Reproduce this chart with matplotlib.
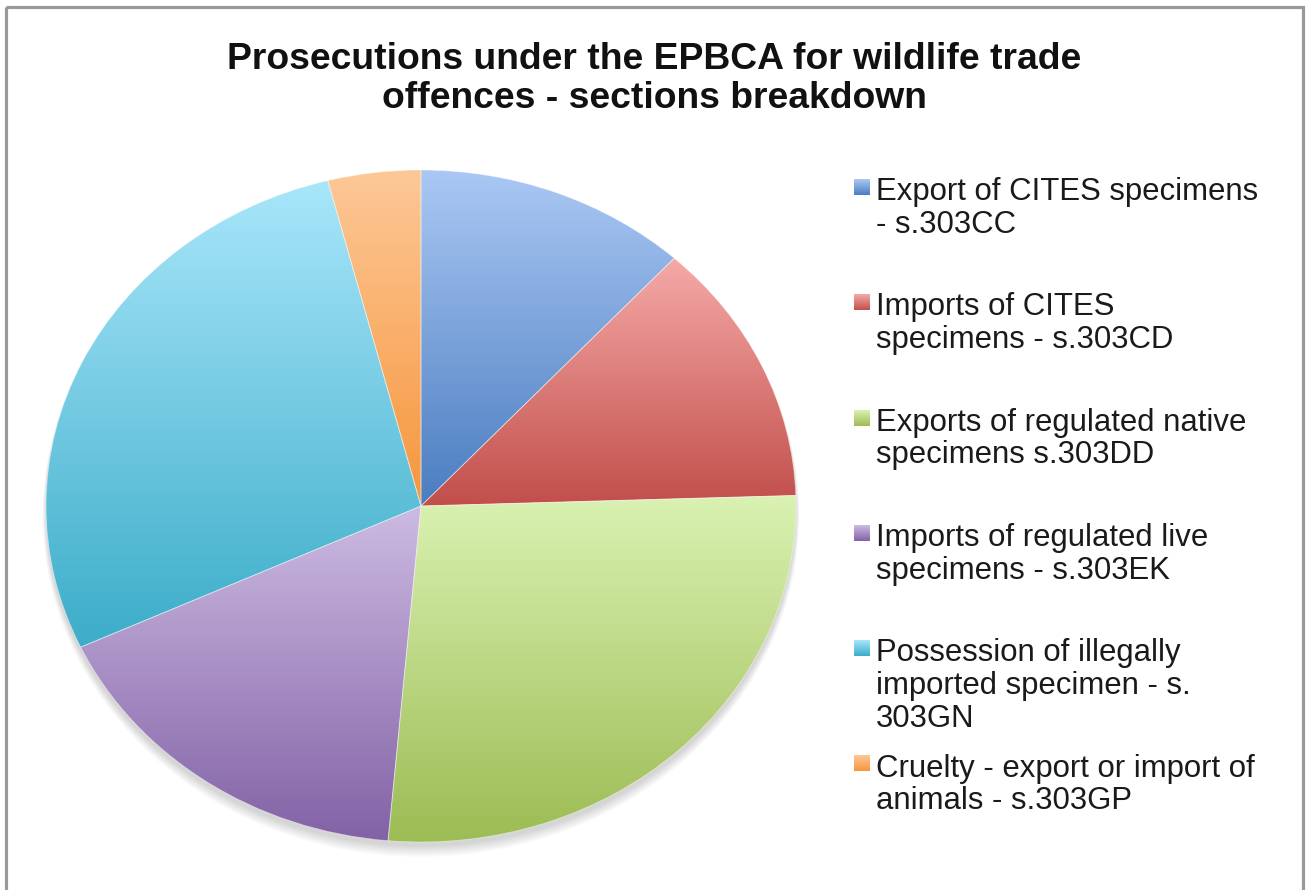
import numpy as np
import matplotlib
matplotlib.use("Agg")
import matplotlib.pyplot as plt
from matplotlib.colors import to_rgb
from matplotlib.patches import Rectangle, Ellipse

# ---- data -------------------------------------------------------------
categories = [
    "Export of CITES specimens\n- s.303CC",
    "Imports of CITES\nspecimens - s.303CD",
    "Exports of regulated native\nspecimens s.303DD",
    "Imports of regulated live\nspecimens - s.303EK",
    "Possession of illegally\nimported specimen - s.\n303GN",
    "Cruelty - export or import of\nanimals - s.303GP",
]
shares = [11.8, 12.7, 26.9, 16.7, 27.9, 4.0]

# light (top) and full (bottom) shades of each slice's gradient
top_colors = ["#abc8f4", "#f5aaa8", "#daf2b2", "#cdbbe2", "#a9e6fa", "#fdc898"]
base_colors = ["#4a7dc0", "#c24e4a", "#9cbc54", "#8262a6", "#3cadc9", "#f6963c"]

title = "Prosecutions under the EPBCA for wildlife trade\noffences - sections breakdown"

# ---- figure -----------------------------------------------------------
W, H = 1306, 890
fig = plt.figure(figsize=(W / 100, H / 100), dpi=100)
fig.patch.set_facecolor("white")

# full-figure axes working in pixel units for frame, title and legend
bg = fig.add_axes([0, 0, 1, 1])
bg.set_axis_off()


def gradient(c_top, c_bot, n=256):
    t = np.linspace(0, 1, n)[:, None]
    a = np.array(to_rgb(c_top))
    b = np.array(to_rgb(c_bot))
    return (b * (1 - t) + a * t)[:, None, :]  # row 0 = bottom


# chart frame
bg.add_patch(Rectangle((5.5, 7), 1297.5, 900, fill=False, ec="#9a9a9a", lw=2.3))

# title
font = "Liberation Sans"
for i, line in enumerate(title.split("\n")):
    bg.text(654, 69 + i * 39, line, ha="center", va="baseline",
            fontsize=26.8, fontweight="bold", family=font, color="#111111")

# legend
entry_y0, entry_step, line_step = 200, 115.3, 32.7
for i, (lab, ct, cb) in enumerate(zip(categories, top_colors, base_colors)):
    yb = entry_y0 + i * entry_step
    bg.imshow(gradient(ct, cb), extent=(854, 869.5, yb - 5, yb - 20.5),
              origin="lower", aspect="auto", interpolation="bilinear", zorder=2)
    for j, line in enumerate(lab.split("\n")):
        bg.text(876, yb + j * line_step, line, ha="left", va="baseline",
                fontsize=22.4, family=font, color="#1a1a1a")

bg.set_xlim(0, W)
bg.set_ylim(H, 0)

# ---- pie (elliptical) -------------------------------------------------
cx, cy, rx, ry = 421, 506, 375, 336
ax = fig.add_axes([(cx - rx) / W, (H - cy - ry) / H, 2 * rx / W, 2 * ry / H])
wedges, _ = ax.pie(shares, startangle=90, counterclock=False, radius=1,
                   wedgeprops=dict(linewidth=0))

# soft shadow beneath the pie
for k in range(7):
    ax.add_patch(Ellipse((0, -0.014 - 0.002 * k), 2 + 0.003 * k, 2 + 0.006 * k,
                         color="black", alpha=0.025, lw=0, zorder=0,
                         clip_on=False))

for w, ct, cb in zip(wedges, top_colors, base_colors):
    th = np.radians(np.linspace(w.theta1, w.theta2, 400))
    ys = np.concatenate([np.sin(th), [0.0]])
    y0, y1 = ys.min(), ys.max()
    w.set_facecolor("none")
    w.set_edgecolor((1, 1, 1, 0.45))
    w.set_linewidth(0.6)
    w.set_zorder(3)
    im = ax.imshow(gradient(ct, cb), extent=(-1, 1, y0, y1), origin="lower",
                   aspect="auto", interpolation="bilinear", zorder=2)
    im.set_clip_path(w)

ax.set_aspect("auto")
ax.set_xlim(-1, 1)
ax.set_ylim(-1, 1)
ax.set_axis_off()

fig.savefig("out.png", dpi=100, facecolor="white")
